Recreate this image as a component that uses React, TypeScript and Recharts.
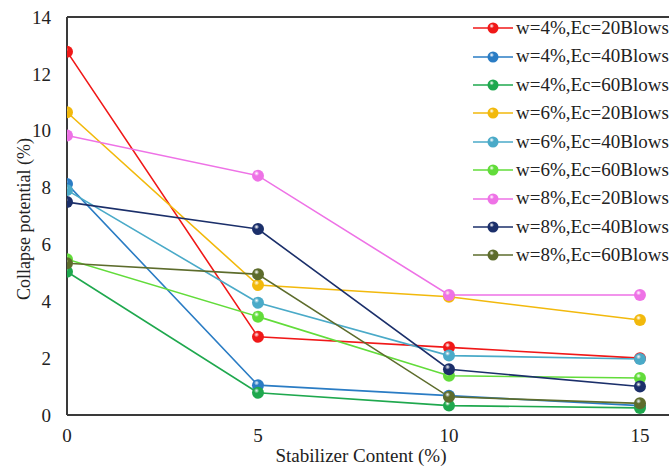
import { Line, LineChart, ReferenceLine, XAxis, YAxis } from "recharts";

const content = [0, 5, 10, 15];
const yTicks = [0, 2, 4, 6, 8, 10, 12, 14];

const w4ec20 = [12.78, 2.75, 2.38, 2.0];
const w4ec40 = [8.13, 1.05, 0.68, 0.33];
const w4ec60 = [5.04, 0.78, 0.33, 0.25];
const w6ec20 = [10.65, 4.57, 4.16, 3.34];
const w6ec40 = [7.91, 3.95, 2.09, 1.97];
const w6ec60 = [5.48, 3.46, 1.38, 1.3];
const w8ec20 = [9.83, 8.42, 4.22, 4.22];
const w8ec40 = [7.49, 6.54, 1.61, 1.0];
const w8ec60 = [5.34, 4.95, 0.64, 0.41];

const series = [
  { key: "a", label: "w=4%,Ec=20Blows", color: "#f01818", values: w4ec20 },
  { key: "b", label: "w=4%,Ec=40Blows", color: "#2a7cc4", values: w4ec40 },
  { key: "c", label: "w=4%,Ec=60Blows", color: "#1fa84e", values: w4ec60 },
  { key: "d", label: "w=6%,Ec=20Blows", color: "#f2b90c", values: w6ec20 },
  { key: "e", label: "w=6%,Ec=40Blows", color: "#4aaac8", values: w6ec40 },
  { key: "f", label: "w=6%,Ec=60Blows", color: "#62dc3a", values: w6ec60 },
  { key: "g", label: "w=8%,Ec=20Blows", color: "#ee72e6", values: w8ec20 },
  { key: "h", label: "w=8%,Ec=40Blows", color: "#1b2f6a", values: w8ec40 },
  { key: "i", label: "w=8%,Ec=60Blows", color: "#5d6c2c", values: w8ec60 },
];

const data = content.map((c, i) => {
  const row: Record<string, number> = { x: c };
  series.forEach((s) => (row[s.key] = s.values[i]));
  return row;
});

const font = "Liberation Serif";
const axisColor = "#3a3a3a";

const Ball = ({ cx, cy, id, r = 6 }: { cx: number; cy: number; id: string; r?: number }) => (
  <circle cx={cx} cy={cy} r={r} fill={`url(#ball-${id})`} />
);

function LegendBox() {
  return (
    <div style={{ position: "absolute", left: 472, top: 14, fontFamily: font, fontSize: 19, color: "#222", lineHeight: "28.4px" }}>
      {series.map((s) => (
        <div key={s.key} style={{ display: "flex", alignItems: "center", whiteSpace: "nowrap" }}>
          <svg width={42} height={14} style={{ marginRight: 2 }}>
            <line x1={1} x2={41} y1={7} y2={7} stroke={s.color} strokeWidth={1.5} />
            <Ball cx={21} cy={7} id={s.key} r={5.5} />
          </svg>
          <span>{s.label}</span>
        </div>
      ))}
    </div>
  );
}

export default function App() {
  return (
    <div style={{ position: "fixed", left: 0, top: 0, width: 669, height: 469, background: "#fff", overflow: "hidden" }}>
      <svg width={0} height={0} style={{ position: "absolute" }}>
        <defs>
          {series.map((s) => (
            <radialGradient key={s.key} id={`ball-${s.key}`} cx="38%" cy="32%" r="70%">
              <stop offset="0%" stopColor="#ffffff" stopOpacity={0.85} />
              <stop offset="30%" stopColor={s.color} />
              <stop offset="100%" stopColor={s.color} stopOpacity={1} />
            </radialGradient>
          ))}
        </defs>
      </svg>
      <LineChart width={669} height={469} data={data} margin={{ top: 17, right: 0, bottom: 0, left: 0 }}>
        <XAxis
          type='number'
          dataKey='x'
          domain={[0, 15.76]}
          ticks={content}
          allowDataOverflow
          height={54}
          tickLine={false}
          axisLine={{ stroke: axisColor, strokeWidth: 2 }}
          tick={{ fontSize: 19, fill: "#222", fontFamily: font }}
          tickMargin={8}
          label={{ value: "Stabilizer Content (%)", position: "insideBottom", offset: 7, dx: -7, fontSize: 19, fill: "#222", fontFamily: font }}
        />
        <YAxis
          type='number'
          domain={[0, 14]}
          ticks={yTicks}
          width={67}
          tickLine={false}
          axisLine={{ stroke: axisColor, strokeWidth: 2 }}
          tick={{ fontSize: 19, fill: "#222", fontFamily: font }}
          tickMargin={10}
          label={{ value: "Collapse potential (%)", angle: -90, position: "insideLeft", offset: 24, dy: 84, fontSize: 18, fill: "#222", fontFamily: font }}
        />
        <ReferenceLine y={14} stroke={axisColor} strokeWidth={2} />
        {series.map((s) => (
          <Line
            key={s.key}
            type='linear'
            dataKey={s.key}
            name={s.label}
            stroke={s.color}
            strokeWidth={1.6}
            dot={(p: any) => <Ball key={`${s.key}-${p.index}`} cx={p.cx} cy={p.cy} id={s.key} />}
            activeDot={false}
            isAnimationActive={false}
          />
        ))}
      </LineChart>
      <LegendBox />
    </div>
  );
}
